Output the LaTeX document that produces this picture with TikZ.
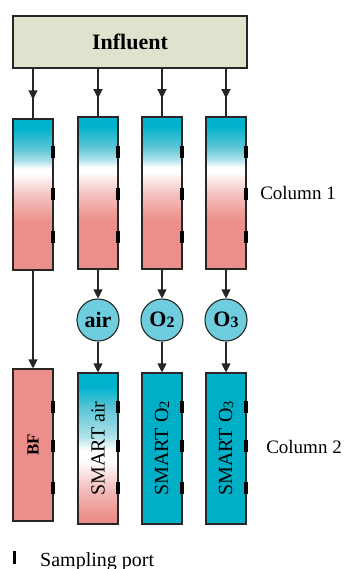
\documentclass[tikz,border=0pt]{standalone}
\usepackage{fontspec}
\setmainfont{Liberation Serif}
\usetikzlibrary{arrows.meta,decorations.markings}
\definecolor{cyanc}{RGB}{0,178,204}
\definecolor{cyanm}{RGB}{95,198,215}
\definecolor{cyanl}{RGB}{175,226,234}
\definecolor{pinkc}{RGB}{236,143,138}
\definecolor{pinkl}{RGB}{245,196,194}
\definecolor{tealc}{RGB}{0,174,197}
\definecolor{circc}{RGB}{110,205,222}
\definecolor{inflc}{RGB}{221,227,205}
\pgfdeclareverticalshading{colgradA}{100bp}{color(0bp)=(pinkc); color(41bp)=(pinkc); color(50bp)=(pinkl); color(57bp)=(white); color(58.5bp)=(white); color(61bp)=(cyanl); color(65bp)=(cyanm); color(72bp)=(cyanc); color(100bp)=(cyanc)}
\pgfdeclareverticalshading{colgradB}{100bp}{color(0bp)=(pinkc); color(27.5bp)=(pinkc); color(37.5bp)=(pinkl); color(46bp)=(white); color(49.5bp)=(white); color(54bp)=(cyanl); color(63bp)=(cyanm); color(70.5bp)=(cyanc); color(100bp)=(cyanc)}
\newcommand\lowsub[1]{\raisebox{-0.12ex}{\scalebox{0.72}{#1}}}
\begin{document}
\begin{tikzpicture}[x=1pt,y=-1pt,
  col/.style={draw=black!85, line width=1.1pt, minimum width=40pt, inner sep=0pt},
  tip/.style={-{Triangle[length=9pt,width=9pt]}},
  link/.style={line width=1.1pt, draw=black!85},
  midarr/.style={line width=1.1pt, draw=black!85, postaction={decorate},
    decoration={markings, mark=at position 0.62 with {\arrow{Triangle[length=9pt,width=9pt]}}}},
  gas/.style={circle, draw=black!85, line width=1.1pt, fill=circc, minimum size=42pt, inner sep=0pt, font=\fontsize{22}{24}\selectfont\bfseries},
  lbl/.style={font=\fontsize{19}{21}\selectfont}
]
\useasboundingbox (0,0) rectangle (343,569);
% influent
\node[draw=black!85, line width=1.1pt, fill=inflc, minimum width=234pt, minimum height=52pt, inner sep=0pt,
  font=\fontsize{22}{24}\selectfont\bfseries] (inf) at (130,42) {Influent};
% column 1
\node[col, shading=colgradA, minimum height=151pt] (a1) at (33,194.5) {};
\node[col, shading=colgradA, minimum height=152pt] (b1) at (98,193) {};
\node[col, shading=colgradA, minimum height=152pt] (c1) at (162,193) {};
\node[col, shading=colgradA, minimum height=152pt] (d1) at (226,193) {};
% gases
\node[gas] (gb) at (98,320) {air};
\node[gas] (gc) at (162,320) {O\lowsub{2}};
\node[gas] (gd) at (226,320) {O\lowsub{3}};
% column 2
\node[col, fill=pinkc, minimum height=152pt] (a2) at (33,445) {\rotatebox{90}{\fontsize{17}{19}\selectfont\bfseries BF}};
\node[col, shading=colgradB, minimum height=151pt] (b2) at (98,448.5) {\rotatebox{90}{\fontsize{20}{22}\selectfont SMART air}};
\node[col, fill=tealc, minimum height=151pt] (c2) at (162,448.5) {\rotatebox{90}{\fontsize{20}{22}\selectfont SMART O\lowsub{2}}};
\node[col, fill=tealc, minimum height=151pt] (d2) at (226,448.5) {\rotatebox{90}{\fontsize{20}{22}\selectfont SMART O\lowsub{3}}};
% ports
\foreach \n in {a1,b1,c1,d1} {
  \foreach \yy in {152,194,237} {
    \fill[black] ([xshift=-2.5pt]\n.east |- 0,\yy) ++(0,-6) rectangle ++(4,12);
  }
}
\foreach \n in {a2,b2,c2,d2} {
  \foreach \yy in {407,446,488} {
    \fill[black] ([xshift=-2.5pt]\n.east |- 0,\yy) ++(0,-6) rectangle ++(4,12);
  }
}
% connectors influent -> column 1
\foreach \n in {a1,b1,c1,d1} {
  \draw[midarr] (inf.south -| \n.north) -- (\n.north);
}
% column 1 -> gases / BF
\draw[link, tip] (a1.south) -- (a2.north);
\draw[link, tip] (b1.south) -- (gb.north);
\draw[link, tip] (c1.south) -- (gc.north);
\draw[link, tip] (d1.south) -- (gd.north);
\draw[link, tip] (gb.south) -- (b2.north);
\draw[link, tip] (gc.south) -- (c2.north);
\draw[link, tip] (gd.south) -- (d2.north);
% labels
\node[lbl] (l1) at (298,193) {Column 1};
\node[lbl] (l2) at (304,447) {Column 2};
\fill[black] (12.5,551) rectangle (16,564);
\node[font=\fontsize{20}{22}\selectfont, anchor=base west, inner sep=0pt] (sp) at (40,566) {Sampling port};
\end{tikzpicture}
\end{document}
